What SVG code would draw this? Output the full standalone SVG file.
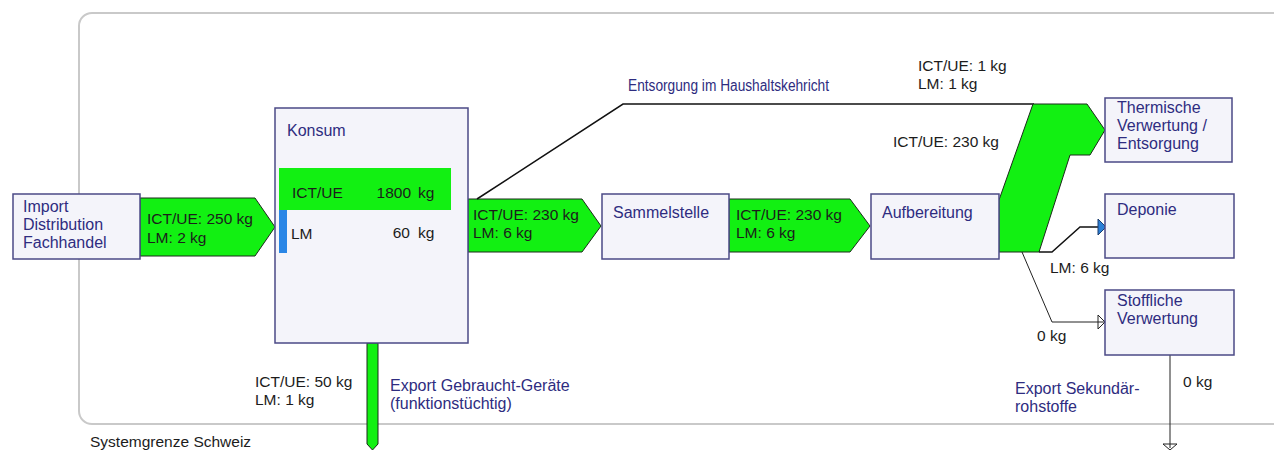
<svg xmlns="http://www.w3.org/2000/svg" width="1274" height="450" viewBox="0 0 1274 450">
  <style>
    .box { fill: #f4f4fa; stroke: #4b4a86; stroke-width: 1.5; }
    .flow { fill: #12f012; stroke: #1b2a1b; stroke-width: 1; stroke-linejoin: miter; }
    .line { fill: none; stroke: #111; stroke-width: 1.5; }
    .thin { fill: none; stroke: #222; stroke-width: 1; }
    .name { font-family: "Liberation Sans", Arial, sans-serif; font-size: 16px; fill: #2e2c80; }
    .val { font-family: "Liberation Sans", Arial, sans-serif; font-size: 15.5px; fill: #1c1c1c; }
  </style>

  <!-- system boundary -->
  <g id="boundary">
    <rect x="79" y="13" width="1230" height="411" rx="13" ry="13" fill="#ffffff" stroke="#c9c9c9" stroke-width="2"/>
    <text class="val" x="90" y="447">Systemgrenze Schweiz</text>
  </g>

  <!-- connectors and flows -->
  <g id="connectors">
    <!-- Import -> Konsum -->
    <polygon class="flow" points="140,198 255,198 275,227 255,256 140,256"/>
    <text class="val" x="147" y="224">ICT/UE: 250 kg</text>
    <text class="val" x="147" y="243">LM: 2 kg</text>

    <!-- Konsum -> Sammelstelle -->
    <polygon class="flow" points="468,199 582,199 601,226 582,252 468,252"/>
    <text class="val" x="473" y="220">ICT/UE: 230 kg</text>
    <text class="val" x="473" y="238">LM: 6 kg</text>

    <!-- Sammelstelle -> Aufbereitung -->
    <polygon class="flow" points="729,199 850,199 870,226 850,252 729,252"/>
    <text class="val" x="736" y="220">ICT/UE: 230 kg</text>
    <text class="val" x="736" y="238">LM: 6 kg</text>

    <!-- household waste line -->
    <polyline class="line" points="477,199 623,104 1034,104"/>
    <text class="name" x="628" y="91" textLength="201" lengthAdjust="spacingAndGlyphs">Entsorgung im Haushaltskehricht</text>
    <text class="val" x="918" y="71">ICT/UE: 1 kg</text>
    <text class="val" x="918" y="89">LM: 1 kg</text>

    <!-- Aufbereitung -> thermal treatment -->
    <polygon class="flow" points="999,252 999,200 1033,104 1087,104 1105,130 1090,155 1070,155 1039,252"/>
    <text class="val" x="893" y="147">ICT/UE: 230 kg</text>

    <!-- Aufbereitung -> Deponie -->
    <polyline class="line" points="1039,252 1052,252 1080,227 1099,227"/>
    <polygon points="1098,219 1106,227 1098,235" fill="#2a7fd6" stroke="#1b3d6e" stroke-width="1"/>
    <text class="val" x="1050" y="273">LM: 6 kg</text>

    <!-- Aufbereitung -> Stoffliche Verwertung -->
    <polyline class="thin" points="1022,252 1052,322 1104,322"/>
    <polyline class="thin" points="1098,315 1105,322 1098,329 1098,315"/>
    <text class="val" x="1037" y="341">0 kg</text>

    <!-- export of secondary raw materials -->
    <line class="thin" x1="1170" y1="355" x2="1170" y2="448"/>
    <polyline class="thin" points="1163,444 1177,444 1170,450 1163,444"/>
    <text class="val" x="1183" y="387">0 kg</text>
    <text class="name" x="1015" y="394">Export Sekundär-</text>
    <text class="name" x="1015" y="412">rohstoffe</text>

    <!-- export of used devices -->
    <polygon class="flow" points="367,343 378,343 378,444 372.5,450 367,444"/>
    <text class="val" x="255" y="387">ICT/UE: 50 kg</text>
    <text class="val" x="255" y="405">LM: 1 kg</text>
    <text class="name" x="390" y="391">Export Gebraucht-Geräte</text>
    <text class="name" x="390" y="409">(funktionstüchtig)</text>
  </g>

  <!-- nodes -->
  <g id="import">
    <rect class="box" x="13" y="194" width="127" height="65"/>
    <text class="name" x="23" y="212">Import</text>
    <text class="name" x="23" y="230">Distribution</text>
    <text class="name" x="23" y="248">Fachhandel</text>
  </g>

  <g id="konsum">
    <rect class="box" x="275" y="108" width="193" height="235"/>
    <text class="name" x="287" y="136">Konsum</text>
    <rect x="279" y="168" width="172" height="42" fill="#12f012"/>
    <text class="val" x="292" y="198">ICT/UE</text>
    <text class="val" x="411" y="198" text-anchor="end">1800</text>
    <text class="val" x="418" y="198">kg</text>
    <rect x="279" y="210" width="8" height="43" fill="#2a86e6"/>
    <text class="val" x="291" y="239">LM</text>
    <text class="val" x="410" y="238" text-anchor="end">60</text>
    <text class="val" x="418" y="238">kg</text>
  </g>

  <g id="sammelstelle">
    <rect class="box" x="602" y="194" width="127" height="65"/>
    <text class="name" x="613" y="218">Sammelstelle</text>
  </g>

  <g id="aufbereitung">
    <rect class="box" x="871" y="194" width="128" height="65"/>
    <text class="name" x="882" y="218">Aufbereitung</text>
  </g>

  <g id="thermische">
    <rect class="box" x="1105" y="98" width="127" height="64"/>
    <text class="name" x="1117" y="113">Thermische</text>
    <text class="name" x="1117" y="131">Verwertung /</text>
    <text class="name" x="1117" y="149">Entsorgung</text>
  </g>

  <g id="deponie">
    <rect class="box" x="1105" y="194" width="129" height="64"/>
    <text class="name" x="1117" y="215">Deponie</text>
  </g>

  <g id="stoffliche">
    <rect class="box" x="1105" y="290" width="129" height="65"/>
    <text class="name" x="1117" y="306">Stoffliche</text>
    <text class="name" x="1117" y="324">Verwertung</text>
  </g>
</svg>
